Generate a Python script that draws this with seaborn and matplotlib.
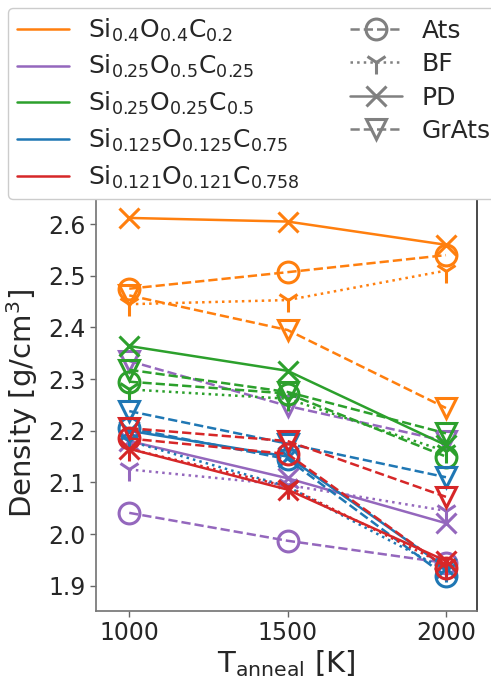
import numpy as np
import pandas as pd
import seaborn as sns
import matplotlib
matplotlib.use("Agg")
import matplotlib.pyplot as plt
from matplotlib.lines import Line2D

temps = [1000, 1500, 2000]
compositions = ["Si0.4O0.4C0.2", "Si0.25O0.5C0.25", "Si0.25O0.25C0.5",
                "Si0.125O0.125C0.75", "Si0.121O0.121C0.758"]
comp_labels = [r"Si$_{0.4}$O$_{0.4}$C$_{0.2}$",
               r"Si$_{0.25}$O$_{0.5}$C$_{0.25}$",
               r"Si$_{0.25}$O$_{0.25}$C$_{0.5}$",
               r"Si$_{0.125}$O$_{0.125}$C$_{0.75}$",
               r"Si$_{0.121}$O$_{0.121}$C$_{0.758}$"]
comp_colors = ["#ff7f0e", "#9467bd", "#2ca02c", "#1f77b4", "#d62728"]
methods = ["Ats", "BF", "PD", "GrAts"]

# density values [g/cm^3] at 1000, 1500, 2000 K
orange_ats = [2.475, 2.507, 2.540]
orange_bf = [2.445, 2.453, 2.510]
orange_pd = [2.612, 2.605, 2.560]
orange_grats = [2.462, 2.395, 2.244]

purple_ats = [2.041, 1.987, 1.944]
purple_bf = [2.125, 2.095, 2.045]
purple_pd = [2.180, 2.108, 2.021]
purple_grats = [2.335, 2.248, 2.180]

green_ats = [2.295, 2.272, 2.150]
green_bf = [2.280, 2.262, 2.160]
green_pd = [2.364, 2.316, 2.172]
green_grats = [2.318, 2.275, 2.195]

blue_ats = [2.205, 2.145, 1.918]
blue_bf = [2.180, 2.092, 1.930]
blue_pd = [2.200, 2.150, 1.935]
blue_grats = [2.238, 2.175, 2.110]

red_ats = [2.185, 2.155, 1.935]
red_bf = [2.165, 2.092, 1.940]
red_pd = [2.165, 2.086, 1.948]
red_grats = [2.205, 2.180, 2.072]

series = {
    compositions[0]: [orange_ats, orange_bf, orange_pd, orange_grats],
    compositions[1]: [purple_ats, purple_bf, purple_pd, purple_grats],
    compositions[2]: [green_ats, green_bf, green_pd, green_grats],
    compositions[3]: [blue_ats, blue_bf, blue_pd, blue_grats],
    compositions[4]: [red_ats, red_bf, red_pd, red_grats],
}

rows = []
for comp, vals in series.items():
    for m, v in zip(methods, vals):
        for t, d in zip(temps, v):
            rows.append({"T": t, "Density": d, "comp": comp, "method": m})
df = pd.DataFrame(rows)

sns.set_theme(style="ticks")
plt.rcParams["font.family"] = ["DejaVu Sans"]
plt.rcParams["mathtext.fontset"] = "dejavusans"

fig = plt.figure(figsize=(4.91, 6.78), dpi=100)
ax = fig.add_axes([0.1955, 0.0988, 0.776, 0.611])

marker_map = {"Ats": "o", "BF": "1", "PD": "x", "GrAts": "v"}
dash_map = {"Ats": (3.7, 1.6), "BF": (1, 1.65), "PD": None, "GrAts": (3.7, 1.6)}
msize = {"Ats": 15, "BF": 17, "PD": 15, "GrAts": 15}
LW = 1.8
MEW = 2.2

for comp, col in zip(compositions, comp_colors):
    for m in methods:
        sub = df[(df["comp"] == comp) & (df["method"] == m)]
        ls = (0, dash_map[m]) if dash_map[m] else "-"
        sns.lineplot(data=sub, x="T", y="Density", color=col, ax=ax,
                     marker=marker_map[m], markersize=msize[m],
                     markerfacecolor="none", markeredgecolor=col,
                     mew=MEW, linestyle=ls, linewidth=LW,
                     estimator=None, sort=False, legend=False)

ax.set_xlim(895, 2098)
ax.set_ylim(1.851, 2.653)
ax.set_xticks([1000, 1500, 2000])
ax.set_yticks([1.9, 2.0, 2.1, 2.2, 2.3, 2.4, 2.5, 2.6])
ax.tick_params(labelsize=17, length=4, width=1, color="#666666")
ax.set_xlabel(r"T$_{\rm anneal}$ [K]", fontsize=21, labelpad=2)
ax.set_ylabel(r"Density [g/cm$^3$]", fontsize=21, labelpad=6)
for s in ["left", "bottom"]:
    ax.spines[s].set_color("#777777")
for s in ["right", "top"]:
    ax.spines[s].set_color("#333333")

handles = [Line2D([], [], color=c, lw=LW) for c in comp_colors]
labels = list(comp_labels)
for m in methods:
    handles.append(Line2D([], [], color="gray", lw=LW,
                          linestyle=(0, dash_map[m]) if dash_map[m] else "-",
                          marker=marker_map[m], markersize=msize[m],
                          markerfacecolor="none", markeredgecolor="gray",
                          markeredgewidth=MEW))
    labels.append(m)

fig.legend(handles, labels, ncol=2, loc="lower left",
           bbox_to_anchor=(0.016, 0.706), borderaxespad=0.0, fontsize=18,
           handlelength=2.1, handletextpad=0.76, columnspacing=2.0,
           labelspacing=0.38, borderpad=0.35, frameon=True, framealpha=1.0,
           edgecolor="#cccccc", fancybox=True)

fig.savefig("out.png", dpi=100)
